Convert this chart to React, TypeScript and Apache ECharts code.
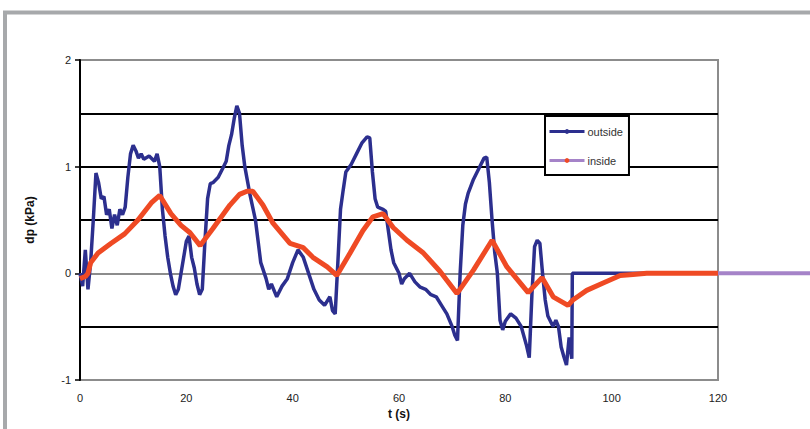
import React, { useEffect, useRef } from "react";
import * as echarts from "echarts";

// outside pressure difference (time s, dp kPa)
const outsideT = [0, 0.5, 1, 1.5, 2, 2.5, 3, 3.5, 4, 4.5, 5, 5.5, 6, 6.5, 7, 7.5, 8, 8.5, 9, 9.5, 10, 10.5, 11, 11.5, 12, 13, 14, 14.5, 15, 15.5, 16, 16.5, 17, 17.5, 18, 18.5, 19, 20, 20.5, 21, 21.5, 22, 22.5, 23, 23.5, 24, 24.5, 25, 26, 27, 27.5, 28, 28.5, 29, 29.5, 30, 30.5, 31, 32, 33, 33.5, 34, 35, 35.5, 36, 37, 38, 39, 40, 41, 42, 43, 44, 45, 46, 47, 47.5, 48, 48.5, 49, 49.5, 50, 51, 52, 53, 54, 54.5, 55, 55.5, 56, 57, 57.5, 58, 58.5, 59, 60, 60.5, 61, 62, 63, 64, 65, 66, 67, 68, 69, 70, 70.5, 71, 71.5, 72, 72.5, 73, 74, 75, 76, 76.5, 77, 77.5, 78, 78.5, 79, 79.5, 80, 81, 82, 83, 84, 84.5, 85, 85.5, 86, 86.5, 87, 87.5, 88, 89, 89.5, 90, 90.5, 91, 91.5, 92, 92.5, 92.6, 100, 110, 120];
const outsideV = [0.0, -0.12, 0.22, -0.15, 0.1, 0.5, 0.94, 0.85, 0.7, 0.72, 0.55, 0.6, 0.42, 0.55, 0.45, 0.6, 0.55, 0.62, 0.9, 1.12, 1.2, 1.15, 1.08, 1.12, 1.07, 1.1, 1.05, 1.12, 1.0, 0.6, 0.35, 0.15, 0.0, -0.12, -0.2, -0.15, 0.0, 0.3, 0.35, 0.15, 0.05, -0.1, -0.2, -0.15, 0.3, 0.7, 0.84, 0.85, 0.9, 1.0, 1.05, 1.2, 1.3, 1.45, 1.57, 1.5, 1.2, 1.0, 0.73, 0.5, 0.3, 0.1, -0.05, -0.15, -0.1, -0.22, -0.12, -0.05, 0.1, 0.22, 0.15, 0.0, -0.15, -0.25, -0.3, -0.22, -0.35, -0.38, 0.1, 0.6, 0.78, 0.95, 1.02, 1.12, 1.22, 1.28, 1.27, 0.95, 0.7, 0.62, 0.6, 0.58, 0.4, 0.22, 0.1, 0.0, -0.1, -0.05, 0.0, -0.08, -0.13, -0.15, -0.2, -0.22, -0.3, -0.38, -0.5, -0.58, -0.63, 0.0, 0.45, 0.65, 0.75, 0.88, 0.98, 1.08, 1.09, 0.85, 0.5, 0.2, 0.0, -0.44, -0.53, -0.45, -0.38, -0.42, -0.5, -0.68, -0.79, -0.2, 0.25, 0.31, 0.28, 0.0, -0.25, -0.4, -0.5, -0.44, -0.5, -0.69, -0.78, -0.86, -0.6, -0.8, 0.0, 0.0, 0.0, 0.0];

// inside pressure difference
const insideT = [0, 1, 1.5, 2, 3.4, 5.8, 8.4, 10.9, 13.4, 15, 17.1, 19, 20.7, 22.6, 25, 28.2, 30, 31.4, 32.5, 34.4, 36.3, 39.5, 42, 43.8, 46.5, 48.3, 50.8, 53.2, 55.1, 57, 58.9, 61.5, 64.6, 67.7, 70.9, 74, 77.5, 80.3, 84.3, 86.9, 89, 91.8, 92.7, 95.3, 98.4, 101.6, 104, 106.6, 120];
const insideV = [-0.05, -0.03, 0.0, 0.1, 0.19, 0.28, 0.37, 0.5, 0.66, 0.73, 0.56, 0.45, 0.38, 0.26, 0.42, 0.64, 0.74, 0.77, 0.77, 0.64, 0.47, 0.28, 0.24, 0.15, 0.06, -0.02, 0.19, 0.4, 0.53, 0.56, 0.43, 0.31, 0.19, 0.02, -0.19, 0.03, 0.31, 0.06, -0.18, -0.04, -0.22, -0.3, -0.25, -0.16, -0.09, -0.02, -0.01, 0.0, 0.0];

// continuation of the inside line past the axis end
const tailT = [120, 140];
const tailV = [0, 0];

const xTicks = { min: 0, max: 120, interval: 20 };
const yTicks = { min: -1, max: 2, interval: 1 };

const NAVY = "#2c2f8e";
const RED = "#ef4a24";
const PURPLE = "#a583c8";
const FONT = "Liberation Sans, Arial, sans-serif";

const W = 810;
const GRID = { left: 80, top: 60, right: 92, bottom: 49 };

export default function App() {
  const ref = useRef<HTMLDivElement>(null);
  useEffect(() => {
    if (!ref.current) return;
    const chart = echarts.init(ref.current, undefined, { renderer: "svg" });
    const zip = (a: number[], b: number[]) => a.map((t, i) => [t, b[i]]);
    // second (hidden) grid that reaches the right edge, same scale as the main one
    const extMax = xTicks.max * (W - GRID.left) / (W - GRID.left - GRID.right);
    chart.setOption({
      animation: false,
      backgroundColor: "#ffffff",
      textStyle: { fontFamily: FONT },
      graphic: [
        {
          type: "rect",
          shape: { x: 5, y: 12.5, width: 900, height: 500 },
          style: { fill: "none", stroke: "#a7a9ab", lineWidth: 4 },
          silent: true,
        },
      ],
      grid: [
        {
          ...GRID,
          show: true,
          borderColor: "#8c8c8c",
          borderWidth: 2,
          backgroundColor: "transparent",
        },
        { left: GRID.left, top: GRID.top, right: 0, bottom: GRID.bottom, show: false },
      ],
      legend: {
        orient: "vertical",
        left: 545,
        top: 116,
        backgroundColor: "#ffffff",
        borderColor: "#000000",
        borderWidth: 2,
        padding: [10, 6, 9, 3],
        itemWidth: 35,
        itemHeight: 6,
        itemGap: 18,
        textStyle: { fontSize: 11, color: "#333", fontFamily: FONT, padding: [0, 0, 0, -2] },
        data: [
          { name: "outside", itemStyle: { color: NAVY }, lineStyle: { color: NAVY, width: 3 } },
          { name: "inside", itemStyle: { color: RED }, lineStyle: { color: PURPLE, width: 3 } },
        ],
      },
      xAxis: [
        {
          type: "value",
          min: xTicks.min,
          max: xTicks.max,
          interval: xTicks.interval,
          name: "t (s)",
          nameLocation: "middle",
          nameGap: 27,
          nameTextStyle: { fontSize: 12, fontWeight: "bold", color: "#111", fontFamily: FONT },
          axisLine: { show: true, lineStyle: { color: "#8c8c8c", width: 2 } },
          axisTick: { show: false },
          axisLabel: { fontSize: 11, color: "#222", margin: 12, fontFamily: FONT },
          splitLine: { show: false },
        },
        {
          type: "value",
          gridIndex: 1,
          min: xTicks.min,
          max: extMax,
          show: false,
        },
      ],
      yAxis: [
        {
          type: "value",
          min: yTicks.min,
          max: yTicks.max,
          interval: yTicks.interval,
          name: "dp (kPa)",
          nameLocation: "middle",
          nameGap: 44,
          nameTextStyle: { fontSize: 12, fontWeight: "bold", color: "#111", fontFamily: FONT },
          axisLine: { show: true, onZero: false, lineStyle: { color: "#000", width: 2 } },
          axisTick: { show: true, length: 5, lineStyle: { color: "#000", width: 1.5 } },
          axisLabel: { fontSize: 11, color: "#222", margin: 9, fontFamily: FONT },
          splitLine: {
            show: true,
            showMinLine: false,
            showMaxLine: false,
            lineStyle: { color: "#000", width: 2 },
          },
          minorTick: { show: false, splitNumber: 2 },
          minorSplitLine: { show: true, lineStyle: { color: "#000", width: 2 } },
        },
        {
          type: "value",
          gridIndex: 1,
          min: yTicks.min,
          max: yTicks.max,
          show: false,
        },
      ],
      series: [
        {
          name: "outside",
          type: "line",
          data: zip(outsideT, outsideV),
          symbol: "none",
          color: NAVY,
          lineStyle: { color: NAVY, width: 3.5 },
          z: 3,
        },
        {
          name: "inside",
          type: "line",
          data: zip(insideT, insideV),
          symbol: "none",
          color: RED,
          lineStyle: { color: RED, width: 5 },
          z: 4,
        },
        {
          name: "tail",
          type: "line",
          xAxisIndex: 1,
          yAxisIndex: 1,
          data: zip(tailT, tailV),
          symbol: "none",
          color: PURPLE,
          lineStyle: { color: PURPLE, width: 4 },
          z: 4,
        },
      ],
    });
    return () => chart.dispose();
  }, []);
  return (
    <div
      ref={ref}
      style={{ position: "fixed", left: 0, top: 0, width: 810, height: 429, background: "#fff" }}
    />
  );
}
